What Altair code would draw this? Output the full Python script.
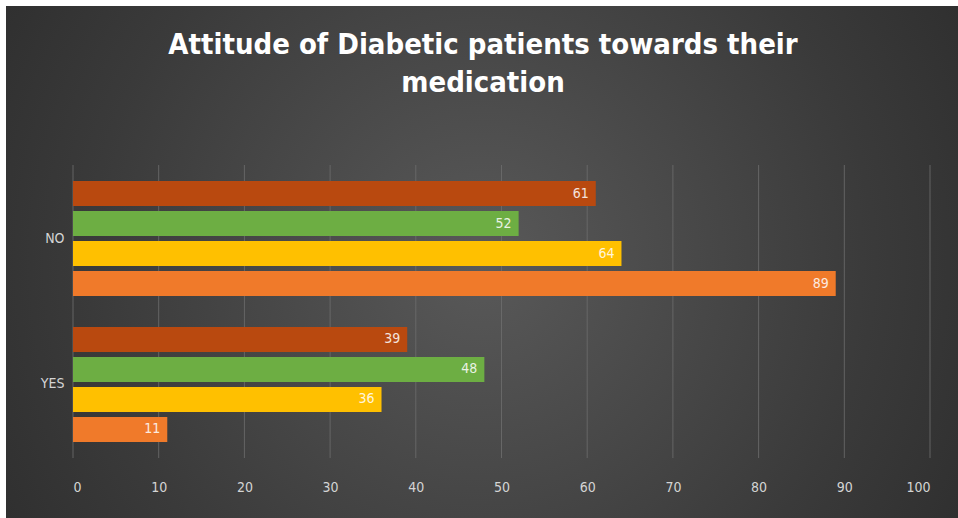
import altair as alt
import pandas as pd

categories = ["NO", "YES"]
series = ["S1", "S2", "S3", "S4"]
colors = ["#B9490F", "#6DAE43", "#FFC000", "#F07A2A"]
values_no = [61, 52, 64, 89]
values_yes = [39, 48, 36, 11]
ticks = [0, 10, 20, 30, 40, 50, 60, 70, 80, 90, 100]
title_lines = ["Attitude of Diabetic patients towards their", "medication"]

rows = []
for s, v in zip(series, values_no):
    rows.append({"cat": "NO", "series": s, "value": v})
for s, v in zip(series, values_yes):
    rows.append({"cat": "YES", "series": s, "value": v})
df = pd.DataFrame(rows)
tick_df = pd.DataFrame({"t": ticks})

W, H = 857, 293
PL, PT = 73, 165

xscale = alt.Scale(domain=[0, 100], nice=False)
yscale = alt.Scale(domain=categories, paddingInner=0.212, paddingOuter=0.11)
yoff_scale = alt.Scale(domain=series, paddingInner=0.17, paddingOuter=0.0)
font = "DejaVu Sans Condensed, Open Sans, sans-serif"

xaxis = alt.Axis(values=ticks, grid=False, domain=False, ticks=False,
                 labelColor="#d4d4d4", labelFontSize=14, labelFont=font,
                 labelPadding=22, title=None, zindex=1)

bg = alt.Chart(alt.Data(values=[{"a": 1}])).mark_rect(
    color=alt.Gradient(
        gradient="radial",
        stops=[alt.GradientStop(color="#595959", offset=0),
               alt.GradientStop(color="#3a3a3a", offset=0.55),
               alt.GradientStop(color="#242424", offset=1)],
        x1=0.5, y1=0.5, r1=0, x2=0.5, y2=0.5, r2=0.75,
    )
).encode(
    x=alt.value(6 - PL), x2=alt.value(958 - PL),
    y=alt.value(6 - PT), y2=alt.value(518 - PT),
)

grid = alt.Chart(tick_df).mark_rule(color="#6e6e6e", strokeWidth=1, opacity=0.8).encode(
    x=alt.X("t:Q", scale=xscale, axis=xaxis),
    y=alt.value(0), y2=alt.value(H),
)

bars = alt.Chart(df).mark_bar().encode(
    x=alt.X("value:Q", scale=xscale, axis=xaxis),
    y=alt.Y("cat:N", scale=yscale,
            axis=alt.Axis(grid=False, domain=False, ticks=False,
                          labelColor="#d4d4d4", labelFontSize=14, labelFont=font,
                          labelPadding=9, title=None, zindex=1)),
    yOffset=alt.YOffset("series:N", scale=yoff_scale),
    color=alt.Color("series:N", scale=alt.Scale(domain=series, range=colors), legend=None),
)

labels = alt.Chart(df).mark_text(
    align="right", baseline="middle", dx=-7, color="#ffffff", opacity=0.85,
    fontSize=14, font=font
).encode(
    x=alt.X("value:Q", scale=xscale),
    y=alt.Y("cat:N", scale=yscale),
    yOffset=alt.YOffset("series:N", scale=yoff_scale),
    text=alt.Text("value:Q"),
)

t1 = alt.Chart(alt.Data(values=[{"a": 1}])).mark_text(
    align="center", baseline="middle", color="#ffffff", fontSize=29,
    font=font, fontWeight="bold"
).encode(x=alt.value(483 - PL), y=alt.value(45 - PT), text=alt.value(title_lines[0]))

t2 = alt.Chart(alt.Data(values=[{"a": 1}])).mark_text(
    align="center", baseline="middle", color="#ffffff", fontSize=29,
    font=font, fontWeight="bold"
).encode(x=alt.value(483 - PL), y=alt.value(83 - PT), text=alt.value(title_lines[1]))

chart = alt.layer(bg, grid, bars, labels, t1, t2).properties(
    width=W, height=H,
    autosize=alt.AutoSizeParams(type="none"),
    padding={"left": PL, "top": PT, "right": 958 - PL - W, "bottom": 518 - PT - H},
).configure(background="#ffffff").configure_view(stroke=None)

chart.save("out.html", embed_options={"renderer": "svg", "actions": False})
